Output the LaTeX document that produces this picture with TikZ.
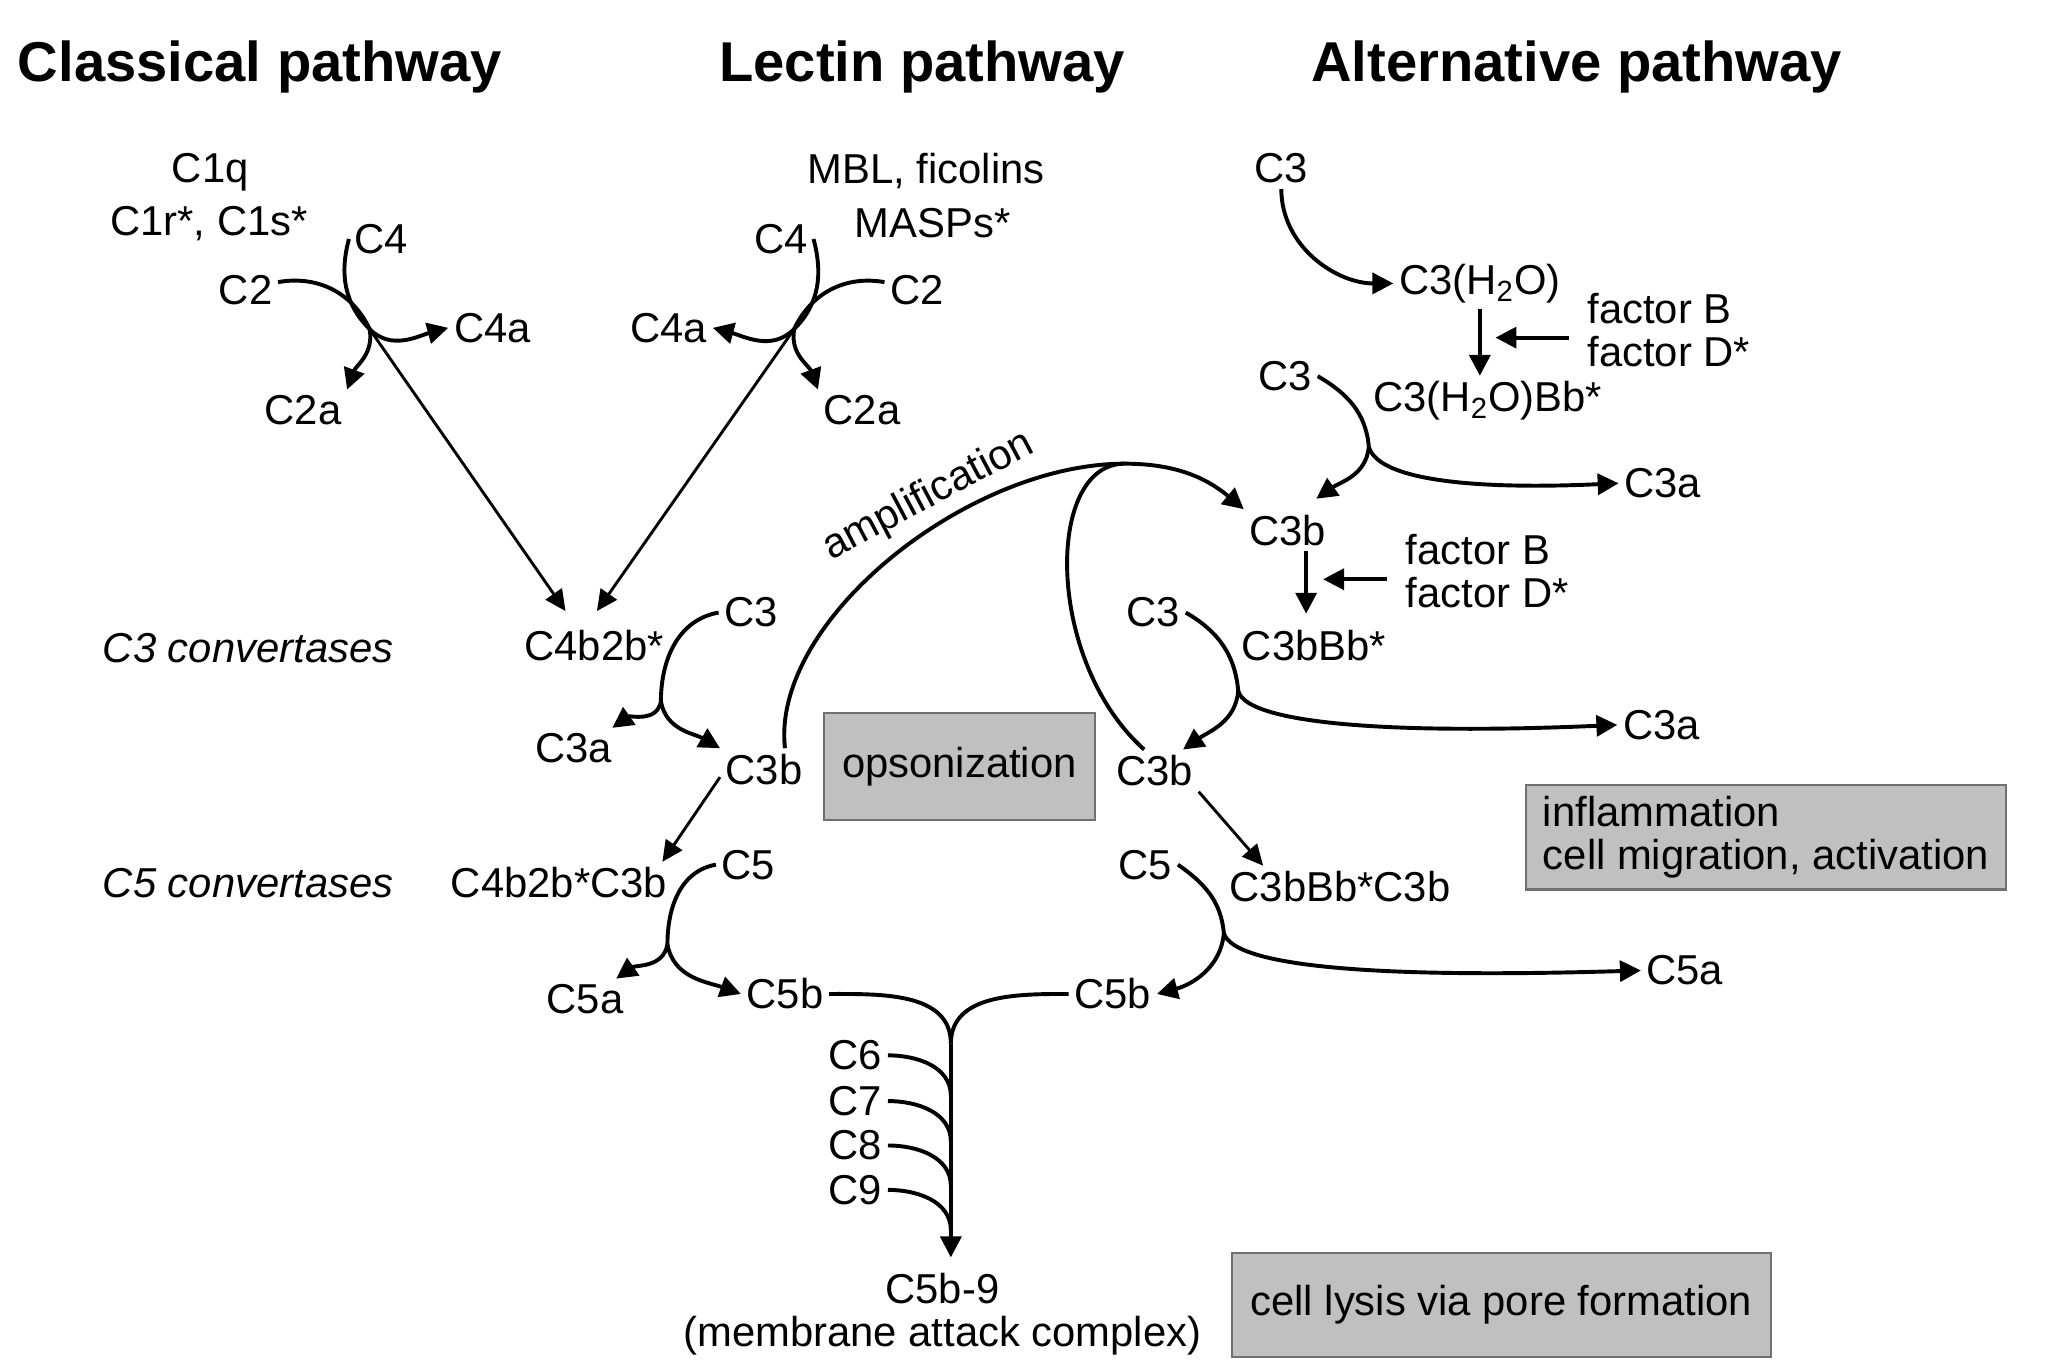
\documentclass[tikz,border=0pt]{standalone}
\usepackage{fontspec}
\setmainfont{Liberation Sans}
\usetikzlibrary{arrows.meta}

\definecolor{boxgray}{RGB}{192,192,192}
\definecolor{boxedge}{RGB}{112,112,112}

\begin{document}
\begin{tikzpicture}[x=0.5pt,y=0.5pt,
  lbl/.style={inner sep=2pt,font=\fontsize{16}{16.5}\selectfont},
  ttl/.style={inner sep=2pt,font=\fontsize{21.5}{24}\selectfont\bfseries},
  conv/.style={inner sep=2pt,font=\fontsize{16}{16.5}\selectfont\itshape},
  gbox/.style={draw=boxedge,fill=boxgray,line width=0.8pt,inner sep=4pt,font=\fontsize{16}{16.5}\selectfont},
  crv/.style={line width=1.5pt},
  arr/.style={line width=1.5pt,-{Triangle[length=8pt,width=8pt]}},
  ln/.style={line width=1.1pt,-{Triangle[length=8pt,width=7.5pt]}}]
\useasboundingbox (0,0) rectangle (1568,1046);

% titles
\node[ttl] (tcl) at (199,995) {Classical pathway};
\node[ttl] (tle) at (706,995) {Lectin pathway};
\node[ttl] (tal) at (1207,995) {Alternative pathway};

% classical pathway
\node[lbl] (c1q) at (161,914) {C1q};
\node[lbl] (c1rs) at (160,875) {C1r*, C1s*};
\node[lbl] (clC4) at (292,863) {C4};
\node[lbl] (clC2) at (188,824) {C2};
\node[lbl] (clC4a) at (377,795) {C4a};
\node[lbl] (clC2a) at (232,732) {C2a};
\coordinate (jcl) at (283,794);

% lectin pathway
\node[lbl] (mbl) at (709,915) {MBL, ficolins};
\node[lbl] (masp) at (714,875) {MASPs*};
\node[lbl] (leC4) at (598,863) {C4};
\node[lbl] (leC2) at (702,824) {C2};
\node[lbl] (leC4a) at (512,795) {C4a};
\node[lbl] (leC2a) at (660,732) {C2a};
\coordinate (jle) at (608,794);

% convertases, left
\node[conv] (cv3) at (190,550) {C3 convertases};
\node[conv] (cv5) at (190,370) {C5 convertases};
\node[lbl] (c4b2b) at (455,552) {C4b2b*};
\node[lbl] (lC3) at (575,577) {C3};
\node[lbl] (lC3a) at (439,473) {C3a};
\node[lbl] (lC3b) at (585,457) {C3b};
\node[lbl] (c4b2b3b) at (428,370) {C4b2b*C3b};
\node[lbl] (lC5) at (573,384) {C5};
\node[lbl] (lC5a) at (448,281) {C5a};
\node[lbl] (lC5b) at (601,285) {C5b};
\coordinate (j3l) at (506,509);
\coordinate (j5l) at (511,323);

% alternative pathway
\node[lbl] (aC3) at (981,917) {C3};
\node[lbl] (h2o) at (1133,829) {C3(H\textsubscript{2}O)};
\node[lbl,anchor=west,align=left] (fac1) at (1211,793.5) {factor B\\factor D*};
\node[lbl] (aC3x) at (984,758) {C3};
\node[lbl] (h2obb) at (1139,739) {C3(H\textsubscript{2}O)Bb*};
\node[lbl] (uC3a) at (1273,676) {C3a};
\node[lbl] (uC3b) at (986,640) {C3b};
\node[lbl,anchor=west,align=left] (fac2) at (1072,608.5) {factor B\\factor D*};
\node[lbl] (c3bbb) at (1006,552) {C3bBb*};
\node[lbl] (rC3) at (883,577) {C3};
\node[lbl] (rC3a) at (1272,491) {C3a};
\node[lbl] (rC3b) at (884,456) {C3b};
\node[lbl] (c3bbb3b) at (1026,367) {C3bBb*C3b};
\node[lbl] (rC5) at (877,384) {C5};
\node[lbl] (rC5a) at (1290,303) {C5a};
\node[lbl] (rC5b) at (852,285) {C5b};
\coordinate (j3a) at (1048,704);
\coordinate (j3r) at (948,517);
\coordinate (j5r) at (937,331.5);
\coordinate (amp) at (861,691);

% grey boxes
\node[gbox,minimum width=103.5pt,minimum height=41pt] (opso) at (734.5,459) {opsonization};
\node[gbox,minimum width=184pt,minimum height=40pt,align=left] (infl) at (1352,405) {inflammation\\cell migration, activation};
\node[gbox,minimum width=206.5pt,minimum height=40pt] (lysis) at (1149.5,47) {cell lysis via pore formation};

% membrane attack complex
\node[lbl,align=center] (mac) at (721.5,39.5) {C5b-9\\(membrane attack complex)};
\coordinate (jm) at (728,247);

% classical connectors
\draw[crv] (clC4.west) to[out=-105,in=135] (jcl);
\draw[arr] (jcl) to[out=-45,in=195] (clC4a.west);
\draw[crv] ([yshift=3pt]clC2.east) to[out=10,in=115] (jcl);
\draw[arr] (jcl) to[out=-80,in=70] (clC2a.north east);
\draw[ln] (jcl) -- ([shift={(-11pt,5pt)}]c4b2b.north);

% lectin connectors
\draw[crv] (leC4.east) to[out=-75,in=45] (jle);
\draw[arr] (jle) to[out=-135,in=-15] (leC4a.east);
\draw[crv] ([yshift=3pt]leC2.west) to[out=170,in=65] (jle);
\draw[arr] (jle) to[out=-100,in=110] (leC2a.north west);
\draw[ln] (jle) -- ([shift={(1pt,5pt)}]c4b2b.north);

% left C3 / C5 convertases
\draw[crv] (lC3.west) to[out=190,in=90] (j3l);
\draw[arr] (j3l) to[out=-100,in=35] ([xshift=-2pt]lC3a.north east);
\draw[arr] (j3l) to[out=-80,in=150] (lC3b.north west);
\draw[ln] ([yshift=-3pt]lC3b.west) -- ([xshift=-4pt]c4b2b3b.north east);
\draw[crv] (lC5.west) to[out=190,in=90] (j5l);
\draw[arr] (j5l) to[out=-100,in=35] ([xshift=-5pt]lC5a.north east);
\draw[arr] (j5l) to[out=-80,in=160] (lC5b.west);

% amplification loop
\draw[crv] ([xshift=8pt]lC3b.north) .. controls (590,570) and (740,691) .. (amp);
\draw[arr] (amp) to[out=0,in=140] (uC3b.north west);
\draw[crv] ([xshift=-4pt]rC3b.north) .. controls (800,540) and (800,691) .. (amp);
\node[lbl,rotate=28] (ampl) at (711,666) {amplification};

% alternative connectors
\draw[arr] (aC3.south) to[out=-90,in=180] (h2o.west);
\draw[arr] (h2o.south) -- (h2o.south |- h2obb.north);
\coordinate (f1) at (h2o.south |- fac1.west);
\draw[arr] ([shift={(-5pt,-3pt)}]fac1.west) -- ([shift={(6pt,-3pt)}]f1);
\draw[crv] (aC3x.east) to[out=-30,in=95] (j3a);
\draw[arr] (j3a) to[out=-95,in=35] ([shift={(-6pt,4pt)}]uC3b.north east);
\draw[arr] (j3a) .. controls (1055,678) and (1130,671) .. (uC3a.west);
\coordinate (v2) at ([xshift=7pt]uC3b.south);
\draw[arr,shorten >=4pt] (v2) -- (v2 |- c3bbb.north);
\coordinate (f2) at (v2 |- fac2.west);
\draw[arr] ([shift={(-5pt,-3pt)}]fac2.west) -- ([shift={(6.5pt,-3pt)}]f2);

% right C3 / C5 convertases
\draw[crv] (rC3.east) to[out=-30,in=95] (j3r);
\draw[arr] (j3r) to[out=-95,in=35] ([xshift=-6pt]rC3b.north east);
\draw[arr] (j3r) .. controls (955,490) and (1080,484) .. (rC3a.west);
\draw[ln] (rC3b.south east) -- ([xshift=15pt]c3bbb3b.north west);
\draw[crv] (rC5.east) to[out=-35,in=95] (j5r);
\draw[arr] (j5r) to[out=-95,in=15] (rC5b.east);
\draw[arr] (j5r) .. controls (945,305) and (1060,297) .. (rC5a.west);

% terminal pathway
\draw[crv] (lC5b.east) to[out=0,in=90] (jm);
\draw[crv] (rC5b.west) to[out=180,in=90] (jm);
\draw[arr,shorten >=4pt] (jm) -- (jm |- mac.north);
\foreach \n/\y in {6/238,7/203,8/169,9/135}{
  \node[lbl] (m\n) at (655,\y) {C\n};
  \coordinate (jm\n) at (728,{\y-31});
  \draw[crv] (m\n.east) to[out=0,in=90] (jm\n);
}
\end{tikzpicture}
\end{document}
